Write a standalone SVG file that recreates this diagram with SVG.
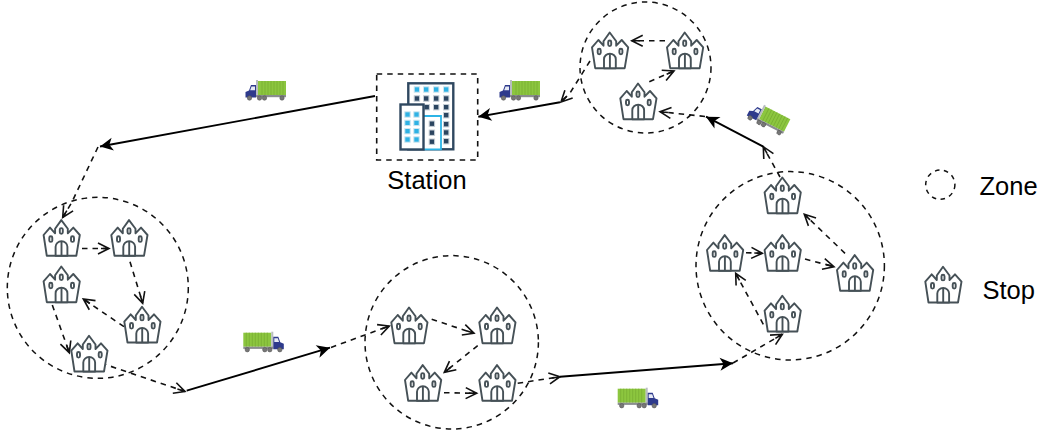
<svg xmlns="http://www.w3.org/2000/svg" width="1040" height="433" viewBox="0 0 1040 433">
<style>
.z{fill:none;stroke:#111;stroke-width:1.5;stroke-dasharray:5.5 5}
.d{fill:none;stroke:#111;stroke-width:1.6;stroke-dasharray:5.5 5;marker-end:url(#o)}
.s{fill:none;stroke:#000;stroke-width:1.9;marker-end:url(#b)}
.t{font-family:"Liberation Sans",Arial,sans-serif;font-size:25.5px;fill:#000}
.c{fill:#fff;stroke:#465157;stroke-width:1.9;stroke-linejoin:round}
.w{fill:#2fb2e4;stroke:#cfe6f0;stroke-width:1}
.k{fill:#2b4560;stroke:#c5ced5;stroke-width:1}
.bl{fill:#fff;stroke:#2f4860;stroke-width:2.4}
</style>
<defs>
<marker id="o" viewBox="-14 -8 16 16" markerWidth="16" markerHeight="16" refX="0" refY="0" orient="auto" markerUnits="userSpaceOnUse"><path d="M-11 -5.5L0 0L-11 5.5M-8 0L0 0" fill="none" stroke="#111" stroke-width="1.6"/></marker>
<marker id="b" viewBox="-14 -8 16 16" markerWidth="16" markerHeight="16" refX="0" refY="0" orient="auto" markerUnits="userSpaceOnUse"><path d="M-13 -6.5L0 0L-13 6.5L-9.5 0Z" fill="#000"/></marker>
<g id="castle">
<path class="c" d="M3.5 36.5H33L36.5 15.7L30 8.3L24.5 14V9.5L18 .8L11.8 9.5V14L6.7 8.3L.3 15.7Z"/>
<path class="c" d="M12.3 36.5V27.5a5.9 5.5 0 0 1 11.8 0V36.5Z"/>
<path class="c" d="M18.2 22.5V36.5"/>
<rect class="c" x="6" y="17" width="3" height="5.6" rx="1.5"/>
<rect class="c" x="16.5" y="8.8" width="3" height="5.6" rx="1.5"/>
<rect class="c" x="27.7" y="17" width="3" height="5.6" rx="1.5"/>
</g>
<g id="truck">
<rect x="0" y="1" width="28" height="14" fill="#8cc63f"/>
<path d="M3 1V15M6 1V15M9 1V15M12 1V15M15 1V15M18 1V15M21 1V15M24 1V15" stroke="#78ad33" stroke-width=".8"/>
<rect x="28" y="0" width="2" height="16" fill="#b8bcc0"/>
<rect x="0" y="15" width="30" height="2.2" fill="#8a8d8f"/>
<path d="M30 5H35L37 10.5L40.5 12V17.5H30Z" fill="#2e3a8c"/>
<path d="M31 6.5H34.5L35.8 10.2H31Z" fill="#e6eaf5"/>
<g fill="#777" stroke="#555" stroke-width=".6"><circle cx="4" cy="18" r="2.2"/><circle cx="21.5" cy="18" r="2.2"/><circle cx="26.5" cy="18" r="2.2"/><circle cx="36.5" cy="18" r="2.2"/></g>
</g>
</defs>
<rect width="1040" height="433" fill="#fff"/>
<g id="zones">
<circle id="zone-left" class="z" cx="97.8" cy="287.8" r="90.5"/>
<circle id="zone-mid" class="z" cx="451.7" cy="342.3" r="86.7"/>
<circle id="zone-right" class="z" cx="790.2" cy="265.8" r="94.2"/>
<circle id="zone-top" class="z" cx="645.5" cy="67.5" r="65.5"/>
</g>
<g id="connectors">
<path class="s" d="M375 96L100 146.5"/>
<path class="d" d="M98 147L72 202L62.7 217.5"/>
<path class="d" d="M82 248.5H109"/>
<path class="d" d="M130 261.7L142.7 303.3"/>
<path class="d" d="M124 326.7L83.3 299"/>
<path class="d" d="M52.3 305L69.3 352.7"/>
<path class="d" d="M101 363L185 391.5"/>
<path class="s" d="M186.7 390.7L330 347.7"/>
<path class="d" d="M331 347.5L389.3 326"/>
<path class="d" d="M431.7 319.3L474 333.3"/>
<path class="d" d="M477.7 345.7L444.3 372.3"/>
<path class="d" d="M444 392.7L476.7 393.3"/>
<path class="d" d="M517.7 383.3L560 376.7"/>
<path class="s" d="M560 376.7L733 363.3"/>
<path class="d" d="M733 363L782.3 334.3"/>
<path class="d" d="M763.3 324.3L735.7 273.3"/>
<path class="d" d="M746 252.7L762.3 253.3"/>
<path class="d" d="M805 259L834 266.7"/>
<path class="d" d="M845 253.3L804.3 214.3"/>
<path class="d" d="M780 177L763.3 146.7"/>
<path class="s" d="M763.3 146.7L706 116.7"/>
<path class="d" d="M705 116.5L660 111.7"/>
<path class="d" d="M649.3 81.7L674 71"/>
<path class="d" d="M665 40.7H631.7"/>
<path class="d" d="M590 61L570 93L561 102"/>
<path class="s" d="M560 102.3L478.3 116.7"/>
</g>
<g id="station">
<rect x="376.7" y="74" width="101" height="86" fill="none" stroke="#111" stroke-width="1.6" stroke-dasharray="5.5 5"/>
<rect class="bl" x="408.3" y="83.3" width="45" height="66"/>
<g class="w"><rect x="414.2" y="86.8" width="5.4" height="5.4"/><rect x="423.5" y="86.8" width="5.4" height="5.4"/><rect x="433.5" y="86.8" width="5.4" height="5.4"/><rect x="443.5" y="86.8" width="5.4" height="5.4"/></g>
<g class="k"><rect x="414.2" y="95.8" width="5.4" height="5.4"/><rect x="423.5" y="95.8" width="5.4" height="5.4"/><rect x="433.5" y="95.8" width="5.4" height="5.4"/><rect x="443.5" y="95.8" width="5.4" height="5.4"/><rect x="424" y="104.5" width="5.4" height="5.4"/><rect x="433.5" y="104.5" width="5.4" height="5.4"/><rect x="443.5" y="104.5" width="5.4" height="5.4"/><rect x="443.5" y="112.5" width="5.4" height="5.4"/><rect x="443.5" y="121.5" width="5.4" height="5.4"/><rect x="443.5" y="129.8" width="5.4" height="5.4"/><rect x="443.5" y="138.5" width="5.4" height="5.4"/></g>
<path d="M423.3 116H441V149.3H423.3" fill="#fff" stroke="#2db4e6" stroke-width="1.8"/>
<g class="k"><rect x="429.2" y="121" width="5.4" height="5.4"/><rect x="429.2" y="130" width="5.4" height="5.4"/><rect x="429.2" y="139" width="5.4" height="5.4"/></g>
<rect class="bl" x="400.5" y="104.5" width="23" height="45"/>
<g class="w"><rect x="404.8" y="111.8" width="5.4" height="5.4"/><rect x="413.8" y="111.8" width="5.4" height="5.4"/><rect x="404.8" y="120.2" width="5.4" height="5.4"/><rect x="413.8" y="120.2" width="5.4" height="5.4"/><rect x="404.8" y="128.5" width="5.4" height="5.4"/><rect x="413.8" y="128.5" width="5.4" height="5.4"/><rect x="404.8" y="136.8" width="5.4" height="5.4"/><rect x="413.8" y="136.8" width="5.4" height="5.4"/></g>
<text class="t" x="427" y="189" text-anchor="middle">Station</text>
</g>
<g id="stops-left">
<use href="#castle" x="43.3" y="219.3"/><use href="#castle" x="111" y="219.3"/><use href="#castle" x="43.3" y="265.7"/><use href="#castle" x="124" y="306"/><use href="#castle" x="71" y="335"/>
</g>
<g id="stops-mid">
<use href="#castle" x="391" y="306.7"/><use href="#castle" x="479" y="306.7"/><use href="#castle" x="404.7" y="364.3"/><use href="#castle" x="479" y="364.3"/>
</g>
<g id="stops-right">
<use href="#castle" x="764.3" y="176.7"/><use href="#castle" x="706.7" y="234.3"/><use href="#castle" x="764.3" y="234.3"/><use href="#castle" x="836.7" y="254.3"/><use href="#castle" x="764.3" y="295"/>
</g>
<g id="stops-top">
<use href="#castle" x="591.7" y="31.7"/><use href="#castle" x="666.7" y="31.7"/><use href="#castle" x="620" y="82.7"/>
</g>
<g id="trucks">
<use href="#truck" transform="translate(286 80) scale(-1 1)"/>
<use href="#truck" transform="translate(540 80) scale(-1 1)"/>
<use href="#truck" transform="translate(243.3 331.7)"/>
<use href="#truck" transform="translate(617.7 387.7)"/>
<use href="#truck" transform="translate(768 118) rotate(27) scale(-1 1) translate(-20.5 -10)"/>
</g>
<g id="legend-zone">
<circle cx="940.3" cy="184.7" r="14.6" fill="none" stroke="#111" stroke-width="1.5" stroke-dasharray="4.5 4.5"/>
<text class="t" x="979.5" y="195">Zone</text>
</g>
<g id="legend-stop">
<use href="#castle" x="925" y="266"/>
<text class="t" x="982.5" y="299.3">Stop</text>
</g>
</svg>
